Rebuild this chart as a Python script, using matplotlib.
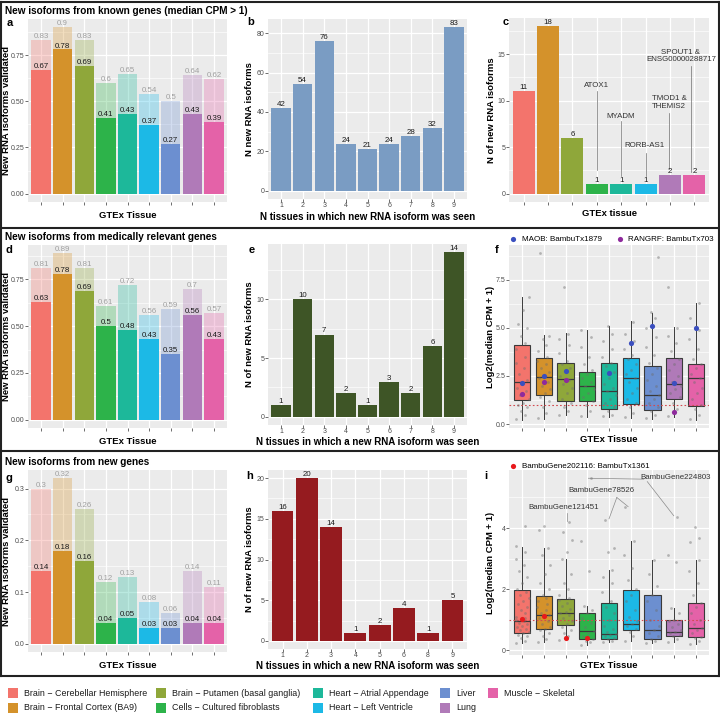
import numpy as np
import matplotlib
matplotlib.use('Agg')
import matplotlib.pyplot as plt
from matplotlib.patches import Rectangle

plt.rcParams['font.family'] = ['Liberation Sans', 'DejaVu Sans']

W, H = 720, 715

# tissues and colours
tissues = ['Brain \u2212 Cerebellar Hemisphere', 'Brain \u2212 Frontal Cortex (BA9)',
           'Brain \u2212 Putamen (basal ganglia)', 'Cells \u2212 Cultured fibroblasts',
           'Heart \u2212 Atrial Appendage', 'Heart \u2212 Left Ventricle',
           'Liver', 'Lung', 'Muscle \u2212 Skeletal']
tissue_colors = ['#F3746C', '#D4922B', '#8FA73A', '#2DB34A', '#1DB89A',
                 '#1CB9E6', '#6C8FD0', '#B07AB8', '#E462A8']

# validation rates (a, d, g): all new isoforms vs validated
known_all = [0.83, 0.9, 0.83, 0.6, 0.65, 0.54, 0.5, 0.64, 0.62]
known_val = [0.67, 0.78, 0.69, 0.41, 0.43, 0.37, 0.27, 0.43, 0.39]
medical_all = [0.81, 0.89, 0.81, 0.61, 0.72, 0.56, 0.59, 0.7, 0.57]
medical_val = [0.63, 0.78, 0.69, 0.5, 0.48, 0.43, 0.35, 0.56, 0.43]
newgene_all = [0.3, 0.32, 0.26, 0.12, 0.13, 0.08, 0.06, 0.14, 0.11]
newgene_val = [0.14, 0.18, 0.16, 0.04, 0.05, 0.03, 0.03, 0.04, 0.04]

# N tissues in which isoform was seen (b, e, h)
b_ntissue = ['1', '2', '3', '4', '5', '6', '7', '8', '9']
b_counts = [42, 54, 76, 24, 21, 24, 28, 32, 83]
e_ntissue = ['1', '2', '3', '4', '5', '6', '7', '8', '9']
e_counts = [1, 10, 7, 2, 1, 3, 2, 6, 14]
h_ntissue = ['1', '2', '3', '4', '5', '6', '8', '9']
h_counts = [16, 20, 14, 1, 2, 4, 1, 5]

# c: tissue specific isoforms (no liver)
c_tissue_idx = [0, 1, 2, 3, 4, 5, 7, 8]
c_counts = [11, 18, 6, 1, 1, 1, 2, 2]
c_genes = ['', '', '', 'ATOX1', 'MYADM', 'RORB-AS1', 'TMOD1 &\nTHEMIS2',
           'SPOUT1 &\nENSG00000288717']

# f: boxplot stats, log2(median CPM + 1), medically relevant genes
f_q1 = [1.24, 1.53, 1.21, 1.22, 0.79, 1.03, 0.71, 1.33, 0.93]
f_med = [2.17, 2.45, 2.33, 1.98, 1.71, 2.38, 1.53, 2.10, 2.38]
f_q3 = [4.09, 3.43, 3.17, 2.71, 3.19, 3.45, 3.02, 3.43, 3.10]
f_lo = [0.24, 0.29, 0.47, 0.38, 0.38, 0.33, 0.29, 0.38, 0.24]
f_hi = [6.59, 4.64, 4.74, 4.90, 5.10, 5.33, 5.79, 5.02, 6.29]
f_points = [
    [0.25, 0.45, 0.7, 0.9, 1.0, 1.1, 1.3, 1.5, 1.7, 1.9, 2.1, 2.3, 2.6, 2.9, 3.2, 3.5, 3.9, 4.2, 4.6, 5.0, 5.2, 5.9, 6.6],
    [0.3, 0.6, 0.9, 1.2, 1.4, 1.6, 1.8, 2.0, 2.2, 2.4, 2.5, 2.7, 2.9, 3.1, 3.3, 3.5, 3.8, 4.1, 4.4, 4.6, 8.9],
    [0.5, 0.7, 0.9, 1.1, 1.3, 1.6, 1.9, 2.1, 2.3, 2.5, 2.7, 2.9, 3.1, 3.3, 3.7, 4.1, 4.4, 4.7, 7.1],
    [0.4, 0.7, 1.0, 1.2, 1.4, 1.6, 1.8, 2.0, 2.2, 2.4, 2.6, 2.8, 3.1, 3.5, 4.0, 4.5, 4.9],
    [0.4, 0.5, 0.7, 0.9, 1.1, 1.3, 1.5, 1.7, 1.9, 2.1, 2.4, 2.7, 3.0, 3.2, 3.5, 3.9, 4.3, 4.7, 5.1],
    [0.35, 0.6, 0.9, 1.1, 1.3, 1.6, 1.9, 2.2, 2.4, 2.6, 2.8, 3.1, 3.4, 3.6, 3.9, 4.3, 4.7, 5.3],
    [0.3, 0.5, 0.7, 0.9, 1.1, 1.3, 1.5, 1.7, 2.0, 2.3, 2.6, 2.9, 3.2, 3.6, 4.0, 4.5, 5.0, 5.5, 5.8, 8.7],
    [0.4, 0.8, 1.1, 1.4, 1.6, 1.8, 2.0, 2.2, 2.5, 2.8, 3.1, 3.4, 3.8, 4.2, 4.6, 5.0, 7.1],
    [0.25, 0.5, 0.8, 1.0, 1.3, 1.6, 1.9, 2.2, 2.4, 2.6, 2.9, 3.1, 3.4, 3.9, 4.4, 4.9, 5.5, 6.3],
]
f_maob = [2.14, 2.5, 2.78, None, 2.66, 4.21, 5.07, 2.14, 5.0]
f_rangrf = [1.55, 2.21, 2.31, None, None, None, None, 0.62, None]

# i: boxplot stats, new genes
i_q1 = [0.57, 0.70, 0.81, 0.37, 0.37, 0.66, 0.35, 0.47, 0.44]
i_med = [0.97, 1.14, 1.21, 0.64, 0.54, 0.86, 0.66, 0.60, 0.74]
i_q3 = [1.96, 1.76, 1.69, 1.23, 1.53, 1.98, 1.80, 0.99, 1.53]
i_lo = [0.22, 0.27, 0.33, 0.16, 0.25, 0.31, 0.22, 0.28, 0.19]
i_hi = [3.39, 3.33, 2.97, 1.43, 2.63, 3.59, 2.94, 1.37, 2.94]
i_points = [
    [0.22, 0.3, 0.4, 0.45, 0.5, 0.55, 0.6, 0.65, 0.7, 0.75, 0.8, 0.85, 0.9, 0.95, 1.0, 1.05, 1.1, 1.2, 1.3, 1.4, 1.5, 1.6, 1.7, 1.8, 1.9, 2.0, 2.2, 2.4, 2.6, 2.8, 3.0, 3.2, 3.4, 4.07],
    [0.27, 0.35, 0.45, 0.55, 0.65, 0.7, 0.75, 0.85, 0.95, 1.05, 1.1, 1.15, 1.2, 1.3, 1.4, 1.5, 1.6, 1.7, 1.8, 2.0, 2.2, 2.5, 2.8, 3.1, 3.33, 3.93, 4.07],
    [0.33, 0.45, 0.55, 0.65, 0.75, 0.85, 0.95, 1.05, 1.15, 1.2, 1.25, 1.35, 1.45, 1.55, 1.65, 1.7, 1.8, 2.0, 2.2, 2.5, 2.97, 3.2, 3.6, 3.86, 4.19],
    [0.16, 0.25, 0.3, 0.37, 0.45, 0.55, 0.64, 0.75, 0.9, 1.05, 1.2, 1.3, 1.43, 2.6, 3.57, 5.63],
    [0.25, 0.3, 0.35, 0.4, 0.45, 0.5, 0.54, 0.6, 0.7, 0.8, 1.0, 1.2, 1.4, 1.6, 1.9, 2.2, 2.4, 2.63, 3.2, 3.35, 4.26],
    [0.31, 0.45, 0.6, 0.7, 0.8, 0.86, 0.95, 1.1, 1.3, 1.6, 1.8, 2.0, 2.3, 2.7, 3.1, 3.59, 4.68],
    [0.22, 0.3, 0.35, 0.45, 0.55, 0.66, 0.8, 1.0, 1.3, 1.6, 1.8, 2.1, 2.5, 2.94],
    [0.28, 0.35, 0.45, 0.5, 0.55, 0.6, 0.65, 0.75, 0.85, 0.95, 1.0, 1.2, 1.37, 2.9, 3.1, 4.37],
    [0.19, 0.3, 0.4, 0.44, 0.55, 0.65, 0.74, 0.85, 1.0, 1.2, 1.4, 1.53, 1.8, 2.2, 2.6, 2.94, 3.55, 3.66, 4.03],
]
i_tx1361 = [1.02, 1.13, 0.40, 0.40, None, None, None, None, None]

# fixed horizontal spread for the jittered points
jitter = [-0.28, 0.12, -0.05, 0.25, -0.18, 0.05, 0.3, -0.1, 0.18, -0.24, 0.0, 0.22, -0.14, 0.08, -0.3, 0.15]

fig = plt.figure(figsize=(W / 100, H / 100), dpi=100)

# overlay for frame and bottom legend (pixel coords)
over = fig.add_axes([0, 0, 1, 1])
over.set_xlim(0, W)
over.set_ylim(H, 0)
over.axis('off')
for yy in [1.5, 228, 451, 676]:
    over.plot([1, 719], [yy, yy], color='#222222', lw=1.5)
over.plot([1, 1], [1.5, 676], color='#222222', lw=1.5)
over.plot([719, 719], [1.5, 676], color='#222222', lw=1.5)

leg_cols = [(8, 24), (156, 172), (313, 329), (440, 456), (488, 504)]
leg_rows = [693, 708]
for k, (name, col) in enumerate(zip(tissues, tissue_colors)):
    cx, tx = leg_cols[k // 2]
    ry = leg_rows[k % 2]
    over.add_patch(Rectangle((cx, ry - 5), 10, 10, color=col, lw=0))
    over.text(tx, ry, name, fontsize=6.4, va='center', ha='left', color='#1A1A1A')

# row titles and panel letters
titles = [(11, 'New isoforms from known genes (median CPM > 1)'),
          (237, 'New isoforms from medically relevant genes'),
          (462, 'New isoforms from new genes')]
for yy, t in titles:
    fig.text(5 / W, 1 - yy / H, t, fontsize=7.2, fontweight='bold', va='center')
letters = [('a', 7, 23), ('b', 247, 22), ('c', 503, 22), ('d', 6, 250), ('e', 249, 250),
           ('f', 495, 250), ('g', 6, 478), ('h', 246, 476), ('i', 484, 476)]
for l, xx, yy in letters:
    fig.text(xx / W, 1 - yy / H, l, fontsize=8, fontweight='bold', va='center')


def add_ax(box):
    x0, y0, x1, y1 = box
    return fig.add_axes([x0 / W, 1 - y1 / H, (x1 - x0) / W, (y1 - y0) / H])


def gg_style(ax, n, ylim, major, majlab, minor, xlabels=None):
    ax.set_facecolor('#EBEBEB')
    for s in ax.spines.values():
        s.set_visible(False)
    ax.set_xlim(0.4, n + 0.6)
    ax.set_ylim(*ylim)
    ax.set_xticks(range(1, n + 1))
    ax.set_xticklabels(xlabels if xlabels else [''] * n)
    ax.set_yticks(major)
    ax.set_yticklabels(majlab)
    ax.set_yticks(minor, minor=True)
    ax.grid(True, which='major', color='white', lw=0.9)
    ax.grid(True, which='minor', axis='y', color='white', lw=0.45)
    ax.set_axisbelow(True)
    ax.tick_params(which='major', length=2, width=0.5, color='#333333',
                   labelsize=5, labelcolor='#4D4D4D', pad=0.6)
    ax.tick_params(axis='x', which='major', pad=0.5, labelsize=5)
    ax.tick_params(which='minor', length=0)


def set_labels(ax, box, xlabel, ylabel, xlab_y, ylab_x, xsize=6.8):
    x0, y0, x1, y1 = box
    ax.set_xlabel(xlabel, fontsize=xsize, fontweight='bold')
    ax.xaxis.set_label_coords(0.5, (y1 - xlab_y) / (y1 - y0))
    ax.xaxis.label.set_va('center')
    ax.set_ylabel(ylabel, fontsize=6.8, fontweight='bold')
    ax.yaxis.set_label_coords((ylab_x - x0) / (x1 - x0), 0.5)
    ax.yaxis.label.set_va('center')


def validation_panel(box, all_v, val_v, major, majlab, minor, xlab_y):
    ax = add_ax(box)
    top = max(all_v)
    gg_style(ax, 9, (-0.05 * top, 1.05 * top), major, majlab, minor)
    x = np.arange(1, 10)
    ax.bar(x, all_v, width=0.9, color=tissue_colors, alpha=0.3, lw=0)
    ax.bar(x, val_v, width=0.9, color=tissue_colors, lw=0)
    for xi, a, v in zip(x, all_v, val_v):
        ax.text(xi, a, f'{a:g}', ha='center', va='bottom', fontsize=5.7, color='#A0A0A0')
        ax.text(xi, v, f'{v:g}', ha='center', va='bottom', fontsize=5.7, color='#1A1A1A')
    set_labels(ax, box, 'GTEx Tissue', 'New RNA isoforms validated', xlab_y, 6.5)
    return ax


def count_panel(box, cats, counts, color, major, minor, xlabel, ylabel, xlab_y, ylab_x):
    ax = add_ax(box)
    top = max(counts)
    n = len(cats)
    gg_style(ax, n, (-0.05 * top, 1.05 * top), major, [str(m) for m in major], minor, cats)
    x = np.arange(1, n + 1)
    ax.bar(x, counts, width=0.9, color=color, lw=0)
    for xi, c in zip(x, counts):
        ax.text(xi, c, str(c), ha='center', va='bottom', fontsize=5.7, color='#1A1A1A')
    set_labels(ax, box, xlabel, ylabel, xlab_y, ylab_x, xsize=7.0)
    return ax


def box_panel(box, q1, med, q3, lo, hi, points, major, majlab, minor, ylim, xlab_y):
    ax = add_ax(box)
    gg_style(ax, 9, ylim, major, majlab, minor)
    stats = [dict(q1=a, med=m, q3=b, whislo=l, whishi=h, fliers=[])
             for a, m, b, l, h in zip(q1, med, q3, lo, hi)]
    res = ax.bxp(stats, positions=range(1, 10), widths=0.75, patch_artist=True,
                 showcaps=False, showfliers=False, manage_ticks=False,
                 boxprops=dict(lw=0.8, edgecolor='#3A3A3A'),
                 medianprops=dict(color='#3A3A3A', lw=0.9),
                 whiskerprops=dict(color='#3A3A3A', lw=0.7))
    for patch, col in zip(res['boxes'], tissue_colors):
        patch.set_facecolor(col)
    ax.axhline(1, color='#D24A50', ls=(0, (1.5, 2)), lw=0.8, zorder=2.5)
    for k, pts in enumerate(points):
        xs = [k + 1 + jitter[j % len(jitter)] for j in range(len(pts))]
        ax.scatter(xs, pts, s=4, color='#6E6E6E', alpha=0.45, lw=0, zorder=3)
    set_labels(ax, box, 'GTEx Tissue', 'Log2(median CPM + 1)', xlab_y, 490)
    return ax


def highlight(ax, vals, color, label):
    xs = [k + 1 for k, v in enumerate(vals) if v is not None]
    ys = [v for v in vals if v is not None]
    ax.scatter(xs, ys, s=14, color=color, lw=0, zorder=4, label=label)


# ---- row 1
box_a = (28, 19, 227, 202)
validation_panel(box_a, known_all, known_val, [0, 0.25, 0.5, 0.75],
                 ['0.00', '0.25', '0.50', '0.75'], [0.125, 0.375, 0.625, 0.875], 215)
count_panel((268, 19, 467, 199), b_ntissue, b_counts, '#7A9CC3', [0, 20, 40, 60, 80],
            [10, 30, 50, 70], 'N tissues in which new RNA isoform was seen',
            'N new RNA isoforms', 217, 250)

box_c = (509, 18, 709, 202)
ax_c = add_ax(box_c)
gg_style(ax_c, 8, (-0.9, 18.9), [0, 5, 10, 15], ['0', '5', '10', '15'], [2.5, 7.5, 12.5, 17.5])
xc = np.arange(1, 9)
ax_c.bar(xc, c_counts, width=0.9, color=[tissue_colors[k] for k in c_tissue_idx], lw=0)
for xi, c in zip(xc, c_counts):
    ax_c.text(xi, c, str(c), ha='center', va='bottom', fontsize=5.7, color='#1A1A1A')
# label position (x, y), segment x, segment top, segment bottom
c_label_pos = {3: (4.0, 11.6, 4.0, 11.0, 2.5), 4: (4.98, 8.3, 4.98, 7.8, 1.9),
               5: (5.95, 5.15, 6.0, 4.4, 1.9), 6: (6.96, 9.8, 6.96, 8.7, 2.65),
               7: (7.45, 14.8, 7.88, 13.7, 2.3)}
for k, (tx, ty, lx, l1, l0) in c_label_pos.items():
    ax_c.plot([lx, lx], [l0, l1], color='#707070', lw=0.5)
    ax_c.text(tx, ty, c_genes[k], ha='center', va='center', fontsize=5.7,
              color='#333333', linespacing=1.1)
set_labels(ax_c, box_c, 'GTEx tissue', 'N of new RNA isoforms', 213, 491)

# ---- row 2
validation_panel((28, 245, 227, 428), medical_all, medical_val, [0, 0.25, 0.5, 0.75],
                 ['0.00', '0.25', '0.50', '0.75'], [0.125, 0.375, 0.625, 0.875], 442)
count_panel((268, 244, 467, 425), e_ntissue, e_counts, '#3E5526', [0, 5, 10],
            [2.5, 7.5, 12.5], 'N tissues in which a new RNA isoform was seen',
            'N of new RNA isoforms', 442, 250)
ax_f = box_panel((509, 245, 709, 428), f_q1, f_med, f_q3, f_lo, f_hi, f_points,
                 [0, 2.5, 5, 7.5], ['0.0', '2.5', '5.0', '7.5'], [1.25, 3.75, 6.25, 8.75],
                 (-0.2, 9.3), 440)
highlight(ax_f, f_maob, '#3B4FBF', 'MAOB: BambuTx1879')
highlight(ax_f, f_rangrf, '#8E2A9C', 'RANGRF: BambuTx703')
ax_f.legend(loc='center left', bbox_to_anchor=(-0.02, 1 + 6 / 183), ncol=2, frameon=False,
            fontsize=5.8, handletextpad=0.1, columnspacing=1.2, borderaxespad=0,
            borderpad=0, markerscale=1.0)

# ---- row 3
validation_panel((28, 470, 227, 652), newgene_all, newgene_val, [0, 0.1, 0.2, 0.3],
                 ['0.0', '0.1', '0.2', '0.3'], [0.05, 0.15, 0.25], 665)
count_panel((268, 470, 467, 649), h_ntissue, h_counts, '#951B1F', [0, 5, 10, 15, 20],
            [2.5, 7.5, 12.5, 17.5], 'N tissues in which a new RNA isoform was seen',
            'N of new RNA isoforms', 666, 250)
ax_i = box_panel((509, 470, 709, 655), i_q1, i_med, i_q3, i_lo, i_hi, i_points,
                 [0, 2, 4], ['0', '2', '4'], [1, 3, 5], (-0.16, 5.9), 665)
highlight(ax_i, i_tx1361, '#E8191C', 'BambuGene202116: BambuTx1361')
ax_i.legend(loc='center left', bbox_to_anchor=(-0.02, 1 + 4 / 185), frameon=False,
            fontsize=5.8, handletextpad=0.1, borderaxespad=0, borderpad=0)

# gene labels in i: text (x, y) and segments to the labelled points
i_labels = [('BambuGene121451', 2.93, 4.66, [((3.07, 4.5), (3.07, 4.22))]),
            ('BambuGene78526', 4.63, 5.22, [((5.36, 5.0), (5.0, 4.3)), ((5.36, 5.0), (5.88, 4.7))]),
            ('BambuGene224803', 8.05, 5.67, [((6.6, 5.6), (4.05, 5.63)), ((6.76, 5.52), (7.98, 4.4))])]
for name, tx, ty, segs in i_labels:
    ax_i.text(tx, ty, name, ha='center', va='center', fontsize=5.7, color='#333333')
    for (xa, ya), (xb, yb) in segs:
        ax_i.plot([xa, xb], [ya, yb], color='#8A8A8A', lw=0.5)

fig.savefig('out.png', dpi=100)
